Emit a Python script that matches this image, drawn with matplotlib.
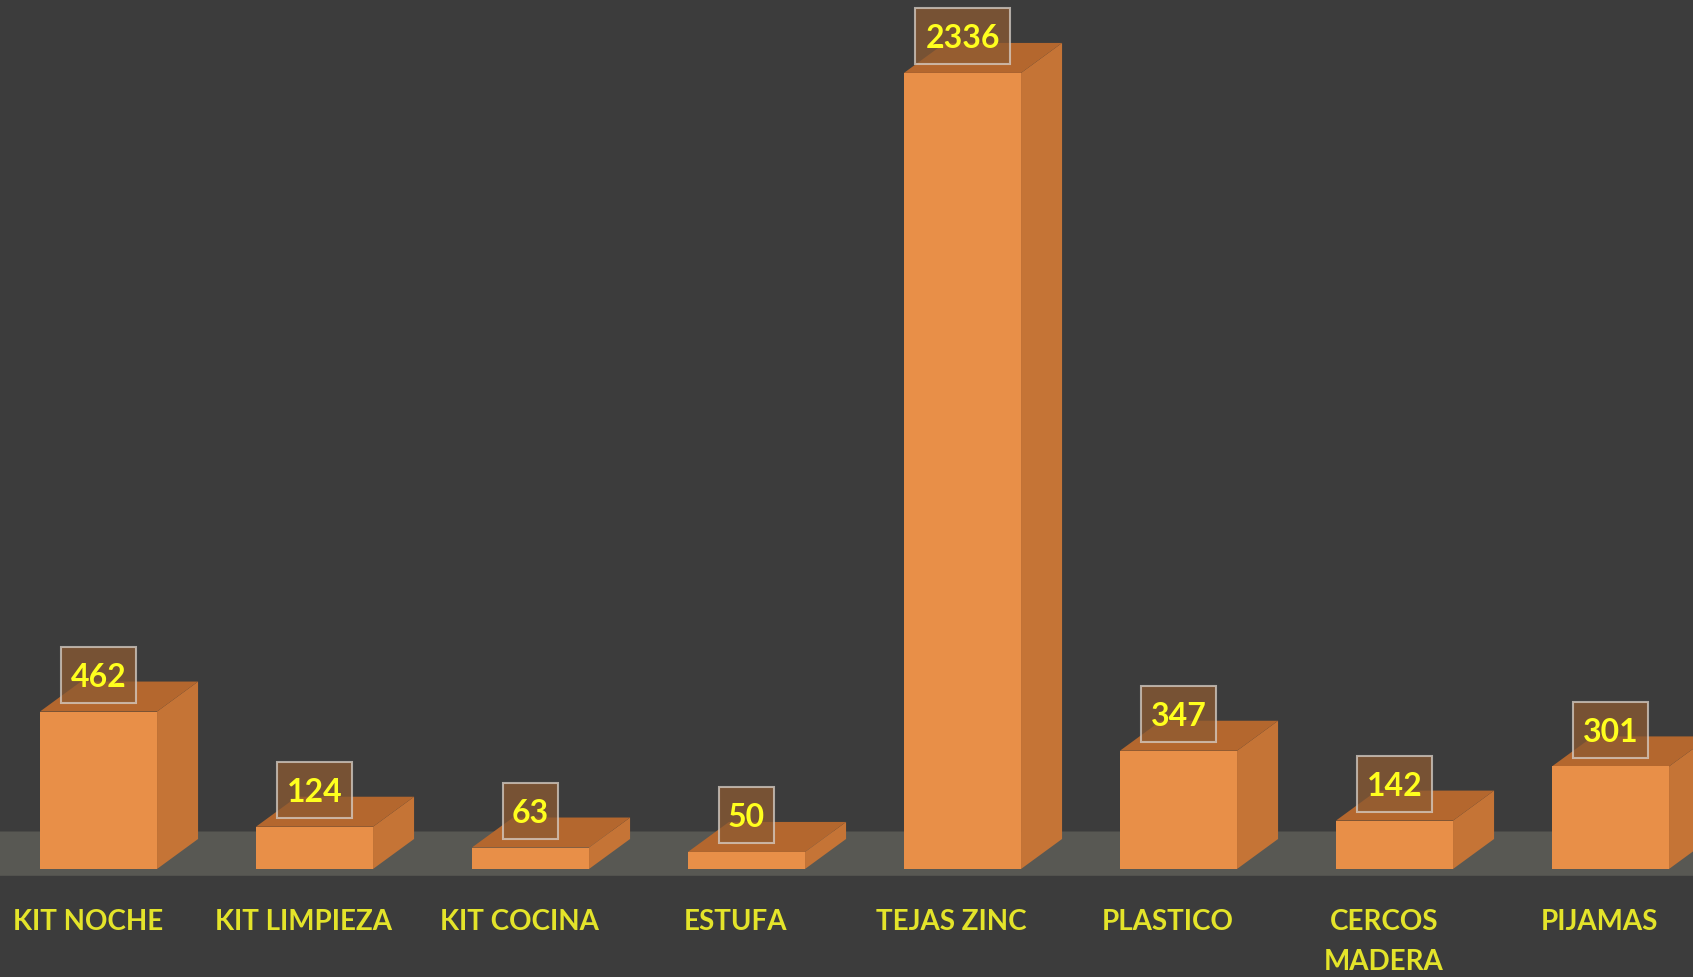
import matplotlib.pyplot as plt
from matplotlib.patches import Polygon, Rectangle

categorias = ['KIT NOCHE', 'KIT LIMPIEZA', 'KIT COCINA', 'ESTUFA',
              'TEJAS ZINC', 'PLASTICO', 'CERCOS\nMADERA', 'PIJAMAS']
valores = [462, 124, 63, 50, 2336, 347, 142, 301]

bg = '#3c3c3c'
front_col = '#e88f48'
side_col = '#c57436'
top_col = '#b4672e'
floor_col = '#585853'

fig = plt.figure(figsize=(16.93, 9.77), dpi=100)
fig.set_facecolor(bg)
ax = fig.add_axes([0, 0, 1, 1])
ax.set_facecolor(bg)
ax.set_xlim(-0.456, 7.382)
ax.set_ylim(-317, 2550)
ax.axis('off')

width = 0.542
dx = 0.19   # depth, x units
dy = 88     # depth, y units

# floor
floor = Polygon([(-0.8, -20), (8, -20), (8 + dx * 1.2, 110), (-0.8 + dx * 1.2, 110)],
                closed=True, facecolor=floor_col, edgecolor='none', zorder=1)
ax.add_patch(floor)

x = list(range(len(categorias)))
ax.bar(x, valores, width=width, color=front_col, edgecolor='none', zorder=3)

bh, off = 164, 108   # label box height and lift
for i, v in enumerate(valores):
    l, r = i - width / 2, i + width / 2
    side = Polygon([(r, 0), (r + dx, dy), (r + dx, v + dy), (r, v)],
                   facecolor=side_col, edgecolor='none', zorder=2)
    top = Polygon([(l, v), (r, v), (r + dx, v + dy), (l + dx, v + dy)],
                  facecolor=top_col, edgecolor='none', zorder=2)
    ax.add_patch(side)
    ax.add_patch(top)
    bw = 0.065 + 0.0926 * len(str(v))
    box = Rectangle((i - bw / 2, v + off - bh / 2), bw, bh, facecolor='#8c5a32',
                    alpha=0.75, edgecolor='#d8d0c8', linewidth=1.5, zorder=4)
    ax.add_patch(box)
    ax.text(i, v + off, str(v), ha='center', va='center_baseline', fontsize=23,
            fontweight='bold', family='Lato', color='#ffff1e', zorder=5)
    ax.text(i - 0.05, -118, categorias[i], ha='center', va='top', fontsize=20,
            fontweight='bold', family='Lato', color='#e4e42a', linespacing=1.65)

fig.savefig('out.png', dpi=100, facecolor=bg)
